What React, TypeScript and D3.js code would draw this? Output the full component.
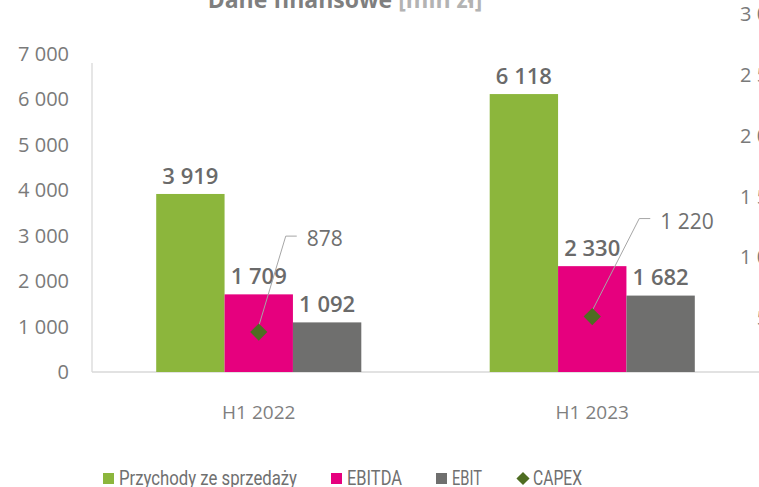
import React from 'react';
import * as d3 from 'd3';

const categories = ['H1 2022', 'H1 2023'];
const seriesNames = ['Przychody ze sprzedaży', 'EBITDA', 'EBIT'];
const revenue = [3919, 6118];
const ebitda = [1709, 2330];
const ebit = [1092, 1682];
const capex = [878, 1220];
const leftTicks = [0, 1000, 2000, 3000, 4000, 5000, 6000, 7000];
const rightTicks = [0, 500, 1000, 1500, 2000, 2500, 3000];
const barColors = ['#8cb63c', '#e6007e', '#6f6f6e'];
const capexColor = '#4e6d22';

const W = 759;
const H = 487;
const fmt = (v: number) => d3.format(',')(v).replace(/,/g, ' ');

export default function App() {
  const x = d3.scaleBand<string>().domain(categories).range([92, 759]).paddingInner(0).paddingOuter(0);
  const y = d3.scaleLinear().domain([0, 7000]).range([372, 54]);
  const yRight = d3.scaleLinear().domain([0, 3000]).range([379, 14]);
  const groupW = x.bandwidth() * 0.615;
  const inner = d3.scaleBand<string>().domain(seriesNames).range([0, groupW]);
  const series = [revenue, ebitda, ebit];
  const numFont = "'Open Sans', sans-serif";

  // CAPEX label offsets (leader lines)
  const capexLabelPos = [
    { dx: 27, dy: -96 },
    { dx: 47, dy: -98 },
  ];

  // legend x positions and text widths
  const legend = [
    { name: seriesNames[0], color: barColors[0], x: 103, w: 178, shape: 'rect' },
    { name: seriesNames[1], color: barColors[1], x: 331, w: 55, shape: 'rect' },
    { name: seriesNames[2], color: barColors[2], x: 436, w: 30, shape: 'rect' },
    { name: 'CAPEX', color: capexColor, x: 517, w: 49, shape: 'diamond' },
  ];

  return (
    <svg width={W} height={H} style={{ position: 'fixed', left: 0, top: 0, background: '#fff' }}>
      {/* title, cut at top */}
      <text x={345} y={8} textAnchor="middle" fontFamily={numFont} fontSize={23} fontWeight={700} fill="#7f7f7f">
        Dane finansowe <tspan fill="#b3b3b3">[mln zł]</tspan>
      </text>

      {/* axes lines */}
      <line x1={92} x2={92} y1={63} y2={y(0)} stroke="#d9d9d9" strokeWidth={1.3} />
      <line x1={92} x2={W} y1={y(0)} y2={y(0)} stroke="#d9d9d9" strokeWidth={1.3} />

      {leftTicks.map(t => (
        <text key={t} x={69} y={y(t)} dy="0.35em" textAnchor="end" fontFamily={numFont} fontSize={20} fill="#7a7a7a">
          {fmt(t)}
        </text>
      ))}
      {rightTicks.map(t => (
        <text key={t} x={791} y={yRight(t)} dy="0.35em" textAnchor="end" fontFamily={numFont} fontSize={20} fill="#7a7a7a">
          {fmt(t)}
        </text>
      ))}

      {categories.map((c, i) => {
        const gx = (x(c) ?? 0) + (x.bandwidth() - groupW) / 2;
        return (
          <g key={c}>
            {series.map((s, j) => {
              const bx = gx + (inner(seriesNames[j]) ?? 0);
              return (
                <g key={j}>
                  <rect x={bx} y={y(s[i])} width={inner.bandwidth()} height={y(0) - y(s[i])} fill={barColors[j]} />
                  <text x={bx + inner.bandwidth() / 2} y={y(s[i]) - 18} dy="0.35em" textAnchor="middle"
                    fontFamily={numFont} fontSize={22} fontWeight={600} fill="#6a6a6a">
                    {fmt(s[i])}
                  </text>
                </g>
              );
            })}
            <text x={(x(c) ?? 0) + x.bandwidth() / 2} y={412} dy="0.35em" textAnchor="middle"
              fontFamily={numFont} fontSize={19} fill="#7f7f7f">{c}</text>
          </g>
        );
      })}

      {/* CAPEX diamonds with leader lines */}
      {categories.map((c, i) => {
        const cx = (x(c) ?? 0) + x.bandwidth() / 2;
        const cy = y(capex[i]);
        const p = capexLabelPos[i];
        const lx = cx + p.dx;
        const ly = cy + p.dy;
        return (
          <g key={'cap' + c}>
            <path d={`M${cx},${cy - 6} L${lx},${ly} L${lx + 11},${ly}`} fill="none" stroke="#a6a6a6" strokeWidth={1} />
            <path d={d3.symbol(d3.symbolDiamond2, 190)() ?? ''} transform={`translate(${cx},${cy})`} fill={capexColor} />
            <text x={lx + 21} y={ly + 3} dy="0.35em" fontFamily={numFont} fontSize={21} fill="#6f6f6f">{fmt(capex[i])}</text>
          </g>
        );
      })}

      {/* legend */}
      {legend.map(l => (
        <g key={l.name}>
          {l.shape === 'rect'
            ? <rect x={l.x} y={473} width={11} height={11} fill={l.color} />
            : <path d={d3.symbol(d3.symbolDiamond2, 110)() ?? ''} transform={`translate(${l.x + 6},478.5)`} fill={l.color} />}
          <text x={l.x + 16} y={478} dy="0.35em" fontFamily="'Roboto', sans-serif" fontWeight={400} fontSize={21}
            fill="#707070" textLength={l.w} lengthAdjust="spacingAndGlyphs">
            {l.name}
          </text>
        </g>
      ))}
    </svg>
  );
}
